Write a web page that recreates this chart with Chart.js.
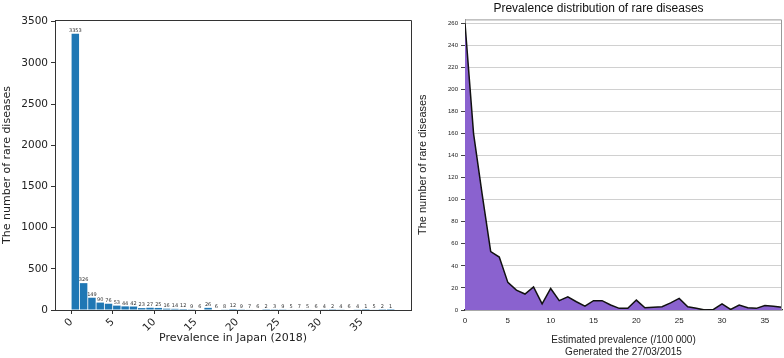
<!DOCTYPE html>
<html>
<head>
<meta charset="utf-8">
<script src="https://cdn.jsdelivr.net/npm/chart.js@4/dist/chart.umd.min.js"></script>
<style>
  html, body { margin: 0; padding: 0; background: #fff; }
  #wrap { position: relative; width: 784px; height: 358px; overflow: hidden; }
  #left { position: absolute; left: 0; top: 0; width: 420px; height: 358px; }
  #right { position: absolute; left: 415px; top: 0; width: 369px; height: 358px; }
</style>
</head>
<body>
<div id="wrap">
  <div id="left"><canvas id="chart-japan" width="420" height="358"></canvas></div>
  <div id="right"><canvas id="chart-orpha" width="369" height="358"></canvas></div>
</div>
<script>
// left panel: prevalence in Japan (2018), one bar per bin [i, i+1)
const japanBins = [0,1,2,3,4,5,6,7,8,9,10,11,12,13,14,15,16,17,18,19,20,21,22,23,24,25,26,27,28,29,30,31,32,33,34,35,36,37,38];
const japanCounts = [3353,326,149,90,76,53,44,42,23,27,25,16,14,12,9,6,26,6,8,12,9,7,6,2,3,9,5,7,5,6,4,2,4,6,4,1,5,2,1];
const japanXTicks = [0, 5, 10, 15, 20, 25, 30, 35];
const japanYTicks = [0, 500, 1000, 1500, 2000, 2500, 3000, 3500];

// right panel: prevalence distribution (/100 000)
const orphaPrev = [0,1,2,3,4,5,6,7,8,9,10,11,12,13,14,15,16,17,18,19,20,21,22,23,24,25,26,27,28,29,30,31,32,33,34,35,36,37];
const orphaCounts = [260,160,105,53,48,25,18,14.5,21,5.5,19.5,8.5,12,7.5,3.5,8.5,8.5,4.5,1.5,1.5,9,2,2.5,3,6.5,10.5,3,1.5,0,0.5,5.5,0.5,4.5,2,1.5,4,3.5,2.5];
const orphaXTicks = [0, 5, 10, 15, 20, 25, 30, 35];
const orphaYTicks = [0,20,40,60,80,100,120,140,160,180,200,220,240,260];

const mplFont = "'DejaVu Sans', sans-serif";
const helv = "'Liberation Sans', Arial, sans-serif";

const fixedTicks = (list) => (s) => { s.ticks = list.map((v) => ({ value: v })); };

const framePlugin = {
  id: "frame",
  afterDraw(chart, args, opts) {
    const a = chart.chartArea, ctx = chart.ctx;
    ctx.save();
    ctx.strokeStyle = opts.color || "#333";
    ctx.lineWidth = 1;
    ctx.beginPath();
    if (opts.full) {
      ctx.rect(a.left + 0.5, a.top + 0.5, a.right - a.left, a.bottom - a.top);
    } else {
      ctx.moveTo(a.left + 0.5, a.top + 0.5);
      ctx.lineTo(a.right - 0.5, a.top + 0.5);
      ctx.lineTo(a.right - 0.5, a.bottom);
    }
    ctx.stroke();
    ctx.restore();
  },
};

const barLabelPlugin = {
  id: "barLabels",
  afterDatasetsDraw(chart) {
    const ctx = chart.ctx;
    const meta = chart.getDatasetMeta(0);
    ctx.save();
    ctx.font = "5px " + mplFont;
    ctx.fillStyle = "#333";
    ctx.textAlign = "center";
    ctx.textBaseline = "bottom";
    meta.data.forEach((bar, i) => {
      ctx.fillText(String(japanCounts[i]), bar.x, bar.y - 0.5);
    });
    ctx.restore();
  },
};

new Chart(document.getElementById("chart-japan"), {
  type: "bar",
  data: {
    datasets: [
      {
        data: japanBins.map((b, i) => ({ x: b + 0.5, y: japanCounts[i] })),
        backgroundColor: "#1f77b4",
        barPercentage: 1,
        categoryPercentage: 0.9,
      },
    ],
  },
  options: {
    responsive: false,
    animation: false,
    layout: { padding: { top: 20, right: 9, left: 0, bottom: 0 } },
    plugins: {
      legend: { display: false },
      tooltip: { enabled: false },
      frame: { full: true, color: "#333" },
    },
    scales: {
      x: {
        type: "linear",
        offset: false,
        min: -1.95,
        max: 40.95,
        afterFit: (s) => { s.height = 48; },
        afterBuildTicks: fixedTicks(japanXTicks),
        ticks: {
          minRotation: 45,
          maxRotation: 45,
          autoSkip: false,
          callback: (v) => String(v),
          font: { family: mplFont, size: 10.5 },
          color: "#222",
          padding: 2,
        },
        grid: { drawOnChartArea: false, drawTicks: true, tickLength: 4, color: "#333", offset: false },
        border: { color: "#333" },
        title: {
          display: true,
          text: "Prevalence in Japan (2018)",
          font: { family: mplFont, size: 11 },
          color: "#222",
          padding: { top: 0, bottom: 13 },
        },
      },
      y: {
        min: 0,
        max: 3520,
        afterFit: (s) => { s.width = 55; },
        afterBuildTicks: fixedTicks(japanYTicks),
        ticks: {
          autoSkip: false,
          callback: (v) => String(v),
          font: { family: mplFont, size: 10.5 },
          color: "#222",
          padding: 3,
        },
        grid: { drawOnChartArea: false, drawTicks: true, tickLength: 4, color: "#333" },
        border: { color: "#333" },
        title: {
          display: true,
          text: "The number of rare diseases",
          font: { family: mplFont, size: 11 },
          color: "#222",
          padding: { top: 1, bottom: 0 },
        },
      },
    },
  },
  plugins: [framePlugin, barLabelPlugin],
});

new Chart(document.getElementById("chart-orpha"), {
  type: "line",
  data: {
    datasets: [
      {
        data: orphaPrev.map((p, i) => ({ x: p, y: orphaCounts[i] })),
        borderColor: "#111",
        borderWidth: 1.5,
        backgroundColor: "#8a62cf",
        fill: "origin",
        pointRadius: 0,
        tension: 0,
      },
    ],
  },
  options: {
    responsive: false,
    animation: false,
    layout: { padding: { top: 0, right: 2, left: 0, bottom: 0 } },
    plugins: {
      legend: { display: false },
      tooltip: { enabled: false },
      frame: { full: false, color: "#999" },
      title: {
        display: true,
        text: "Prevalence distribution of rare diseases",
        font: { family: helv, size: 12, weight: "normal" },
        color: "#111",
        padding: { top: 1, bottom: 4 },
      },
    },
    scales: {
      x: {
        type: "linear",
        min: 0,
        max: 37,
        afterFit: (s) => { s.height = 48; },
        afterBuildTicks: fixedTicks(orphaXTicks),
        ticks: {
          maxRotation: 0,
          autoSkip: false,
          font: { family: helv, size: 8 },
          color: "#222",
          padding: 6,
        },
        grid: { display: false, drawTicks: false },
        border: { color: "#333", width: 1.2 },
        title: {
          display: true,
          text: ["Estimated prevalence (/100 000)", "Generated the 27/03/2015"],
          font: { family: helv, size: 10 },
          color: "#222",
          padding: { top: 0, bottom: 0 },
        },
      },
      y: {
        min: 0,
        max: 263.5,
        afterFit: (s) => { s.width = 50; },
        afterBuildTicks: fixedTicks(orphaYTicks),
        ticks: {
          autoSkip: false,
          font: { family: helv, size: 6 },
          color: "#222",
          padding: 3,
        },
        grid: {
          color: "#d0d0d0",
          borderDash: [1, 2],
          tickColor: "#444",
          tickBorderDash: [],
          tickLength: 4,
        },
        border: { color: "#999" },
        title: {
          display: true,
          text: "The number of rare diseases",
          font: { family: helv, size: 11 },
          color: "#222",
          padding: { top: 1, bottom: 0 },
        },
      },
    },
  },
  plugins: [framePlugin],
});
</script>
</body>
</html>
